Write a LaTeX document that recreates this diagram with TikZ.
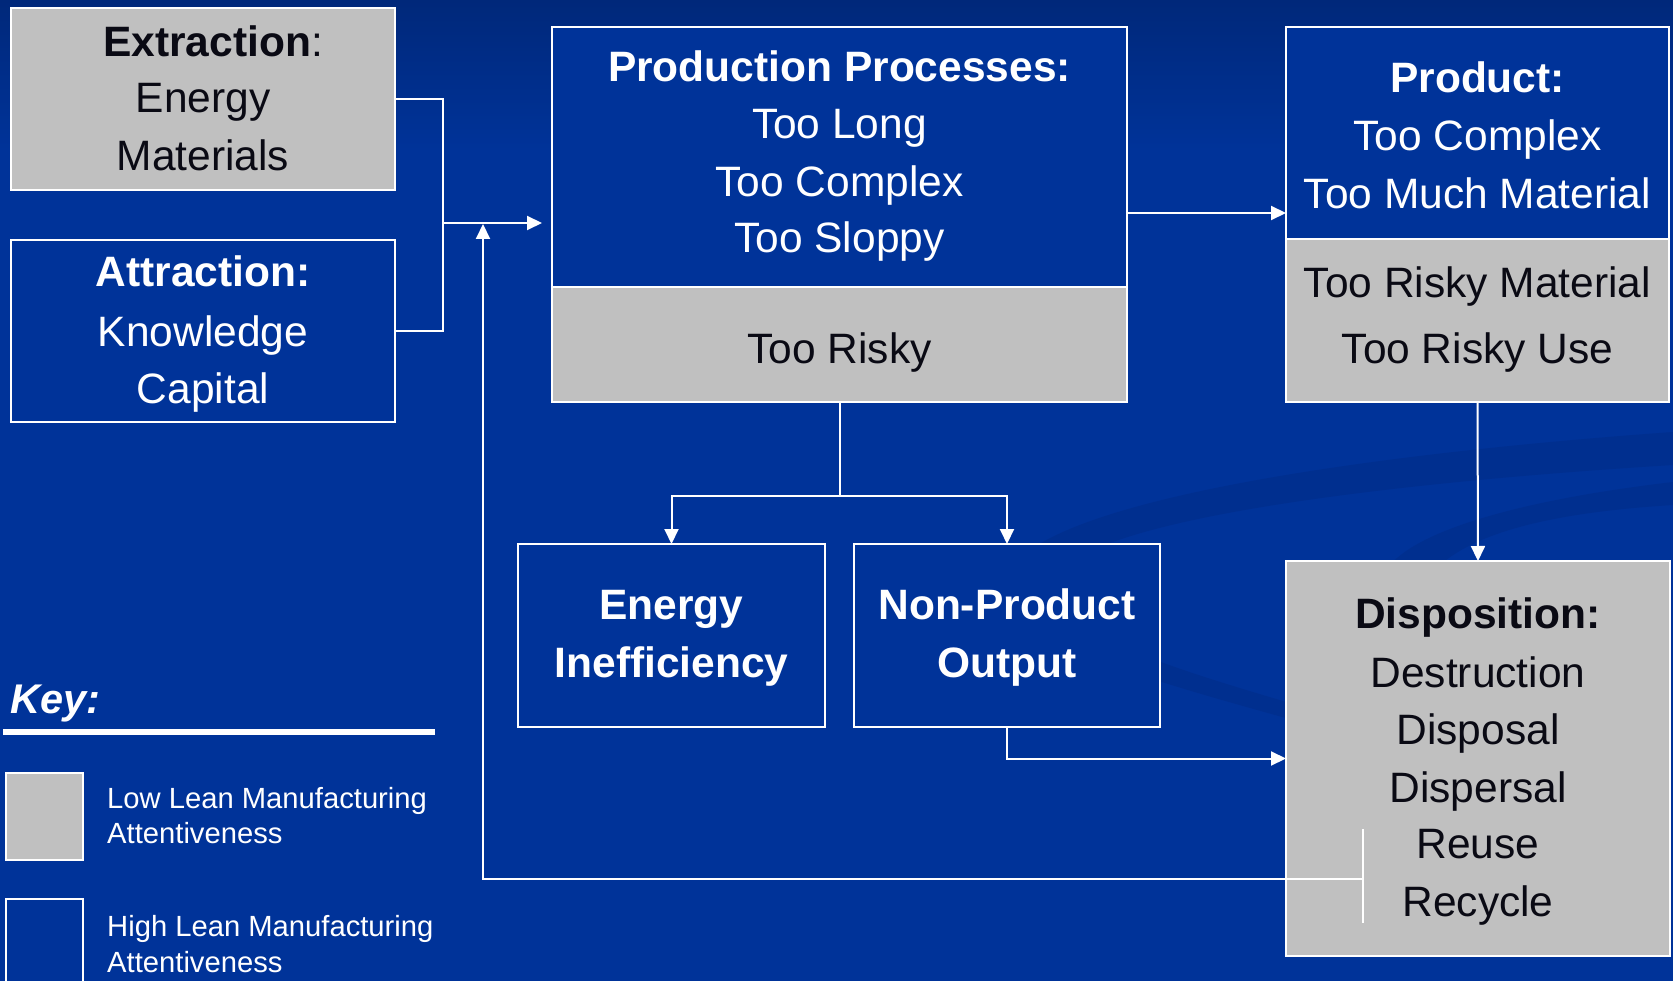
\documentclass[tikz,border=0pt]{standalone}
\usepackage{fontspec}
\setmainfont{Liberation Sans}
\usetikzlibrary{arrows.meta}
\definecolor{bgblue}{HTML}{003399}
\definecolor{bgtop}{HTML}{00287A}
\definecolor{boxgray}{HTML}{C0C0C0}
\definecolor{ink}{HTML}{0A0A14}
\definecolor{swoosh}{HTML}{002C88}
\begin{document}
\begin{tikzpicture}[x=1pt,y=-1pt,
 box/.style={draw=white,line width=2pt,inner sep=0pt,outer sep=0pt,anchor=north west,rectangle},
 graybox/.style={box,fill=boxgray},
 bluebox/.style={box,fill=bgblue},
 conn/.style={draw=white,line width=2pt},
 arr/.style={conn,-{Triangle[length=15pt,width=14pt]}},
 big/.style={font=\fontsize{42.5}{51}\selectfont,anchor=base,inner sep=0pt},
 bigb/.style={big,font=\fontsize{42.5}{51}\selectfont\bfseries},
 wt/.style={text=white}, dk/.style={text=ink},
 keytxt/.style={font=\fontsize{29.2}{35}\selectfont,anchor=base west,inner sep=0pt,text=white}]
\useasboundingbox (0,0) rectangle (1673,981);
% background
\fill[bgblue] (0,0) rectangle (1673,981);
\shade[top color=bgtop,bottom color=bgblue] (0,0) rectangle (1673,150);
\fill[swoosh,opacity=.55] (1673,432) .. controls (1350,455) and (1010,505) .. (1005,585) .. controls (1000,640) and (1150,680) .. (1300,722) -- (1300,706) .. controls (1160,665) and (1050,630) .. (1055,585) .. controls (1060,525) and (1350,485) .. (1673,465) -- cycle;
\fill[swoosh,opacity=.55] (1673,482) .. controls (1520,500) and (1420,530) .. (1390,565) -- (1440,565) .. controls (1480,530) and (1560,512) .. (1673,505) -- cycle;

% boxes
\node[graybox,minimum width=384pt,minimum height=182pt] (extr) at (11,8) {};
\node[bluebox,minimum width=384pt,minimum height=182pt] (attr) at (11,240) {};
\node[bluebox,minimum width=575pt,minimum height=260pt] (prodtop) at (552,27) {};
\node[graybox,minimum width=575pt,minimum height=115pt] (prodbot) at (552,287) {};
\node[bluebox,minimum width=383pt,minimum height=212pt] (prtop) at (1286,27) {};
\node[graybox,minimum width=383pt,minimum height=163pt] (prbot) at (1286,239) {};
\node[bluebox,minimum width=307pt,minimum height=183pt] (energy) at (518,544) {};
\node[bluebox,minimum width=306pt,minimum height=183pt] (npo) at (854,544) {};
\node[graybox,minimum width=384pt,minimum height=395pt] (disp) at (1286,561) {};
\node[graybox,minimum width=77pt,minimum height=87pt] (ksq1) at (6,773) {};
\node[bluebox,minimum width=77pt,minimum height=120pt] (ksq2) at (6,899) {};

% texts
\node[big,dk] (t1) at (213,57) {{\bfseries Extraction}:};
\node[big,dk] (t2) at (203,113) {Energy};
\node[big,dk] (t3) at (203,171) {Materials};
\node[bigb,wt] (t4) at (203,287) {Attraction:};
\node[big,wt] (t5) at (203,347) {Knowledge};
\node[big,wt] (t6) at (203,403) {Capital};
\node[bigb,wt] (t7) at (839.5,82) {Production Processes:};
\node[big,wt] (t8) at (839.5,139) {Too Long};
\node[big,wt] (t9) at (839.5,197) {Too Complex};
\node[big,wt] (t10) at (839.5,253) {Too Sloppy};
\node[big,dk] (t11) at (839.5,363) {Too Risky};
\node[bigb,wt] (t12) at (1477.5,93) {Product:};
\node[big,wt] (t13) at (1477.5,151) {Too Complex};
\node[big,wt] (t14) at (1477.5,209) {Too Much Material};
\node[big,dk] (t15) at (1477.5,298) {Too Risky Material};
\node[big,dk] (t16) at (1477.5,363) {Too Risky Use};
\node[bigb,wt] (t17) at (671.5,619) {Energy};
\node[bigb,wt] (t18) at (671.5,677) {Inefficiency};
\node[bigb,wt] (t19) at (1007,619) {Non-Product};
\node[bigb,wt] (t20) at (1007,677) {Output};
\node[bigb,dk] (t21) at (1478,628) {Disposition:};
\node[big,dk] (t22) at (1478,687) {Destruction};
\node[big,dk] (t23) at (1478,744) {Disposal};
\node[big,dk] (t24) at (1478,802) {Dispersal};
\node[big,dk] (t25) at (1478,858) {Reuse};
\node[big,dk] (t26) at (1478,916) {Recycle};

% key
\node[anchor=base west,inner sep=0pt,text=white,font=\fontsize{41.5}{50}\selectfont\bfseries\itshape] (key) at (10,713) {Key:};
\draw[white,line width=6pt] (3,732) -- (435,732);
\node[keytxt] (k1) at (107,808) {Low Lean Manufacturing};
\node[keytxt] (k2) at (107,843) {Attentiveness};
\node[keytxt] (k3) at (107,936) {High Lean Manufacturing};
\node[keytxt] (k4) at (107,972) {Attentiveness};

% connectors
\coordinate (jn) at (443,223);
\coordinate (up) at (483,224);
\coordinate (rt) at (1363,829);
\coordinate (rb) at (1363,923);
\coordinate (rm) at (1363,879);
\draw[conn] (extr.east) -| (jn) |- (attr.east);
\draw[arr,shorten >=10pt] (jn) -- (jn -| prodtop.west);
\draw[conn] (rt) -- (rb);
\draw[arr] (rm) -| (up);
\draw[arr] (prodtop.east |- 0,213) -- (prtop.west |- 0,213);
\draw[arr] (prodbot.south) -- ++(0,94) -| (energy.north);
\draw[arr] (prodbot.south) -- ++(0,94) -| (npo.north);
\draw[arr] (prbot.south) -- (disp.north);
\draw[arr] (npo.south) |- (disp.west);
\end{tikzpicture}
\end{document}
